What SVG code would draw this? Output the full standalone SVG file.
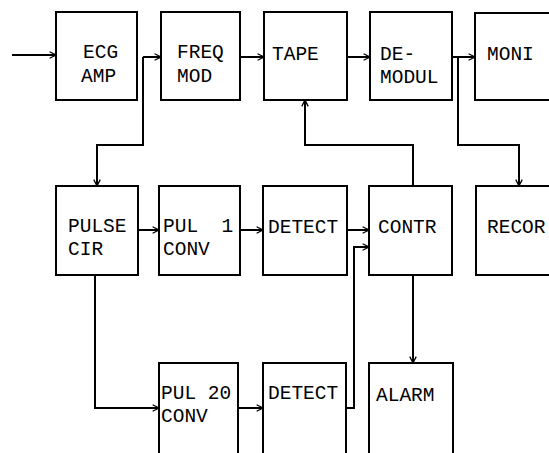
<svg xmlns="http://www.w3.org/2000/svg" width="549" height="453" viewBox="0 0 549 453">
<style>
.box{fill:#fff;stroke:#000;stroke-width:2}
.t{font-family:"Liberation Mono","DejaVu Sans Mono",monospace;font-size:19.5px;fill:#000;white-space:pre}
.c{fill:none;stroke:#000;stroke-width:2}
</style>
<defs>
<marker id="a" viewBox="0 0 10 10" refX="9" refY="5" markerWidth="8" markerHeight="8" markerUnits="userSpaceOnUse" orient="auto">
<path d="M1,1 L9,5 L1,9" fill="none" stroke="#000" stroke-width="1.6"/>
</marker>
</defs>
<rect width="549" height="453" fill="#fff"/>
<g id="ecg"><rect class="box" x="56" y="12" width="81" height="88"/><text class="t" x="83" y="58">ECG</text><text class="t" x="81" y="82">AMP</text></g>
<g id="freq"><rect class="box" x="161" y="12" width="79" height="88"/><text class="t" x="177" y="58">FREQ</text><text class="t" x="177" y="82">MOD</text></g>
<g id="tape"><rect class="box" x="264" y="12" width="83" height="88"/><text class="t" x="272" y="60">TAPE</text></g>
<g id="demod"><rect class="box" x="370" y="12" width="82" height="88"/><text class="t" x="380" y="60">DE-</text><text class="t" x="380" y="83">MODUL</text></g>
<g id="moni"><rect class="box" x="475" y="13" width="90" height="87"/><text class="t" x="487" y="60">MONI</text></g>
<g id="pulse"><rect class="box" x="56" y="186" width="82" height="89"/><text class="t" x="68" y="232">PULSE</text><text class="t" x="68" y="255">CIR</text></g>
<g id="pul1"><rect class="box" x="159" y="186" width="81" height="89"/><text class="t" x="163" y="232">PUL  1</text><text class="t" x="163" y="255">CONV</text></g>
<g id="detect1"><rect class="box" x="263" y="186" width="84" height="89"/><text class="t" x="268" y="233">DETECT</text></g>
<g id="contr"><rect class="box" x="369" y="186" width="83" height="89"/><text class="t" x="378" y="233">CONTR</text></g>
<g id="recor"><rect class="box" x="476" y="186" width="90" height="89"/><text class="t" x="487" y="233">RECOR</text></g>
<g id="pul20"><rect class="box" x="159" y="363" width="79" height="100"/><text class="t" x="161" y="399">PUL 20</text><text class="t" x="161" y="422">CONV</text></g>
<g id="detect2"><rect class="box" x="263" y="363" width="83" height="100"/><text class="t" x="268" y="399">DETECT</text></g>
<g id="alarm"><rect class="box" x="369" y="363" width="84" height="100"/><text class="t" x="376" y="401">ALARM</text></g>
<g id="connectors">
<path class="c" d="M12,55 H56" marker-end="url(#a)"/>
<path class="c" d="M143,57 H161" marker-end="url(#a)"/>
<path class="c" d="M143,57 V145 H97 V186" marker-end="url(#a)"/>
<path class="c" d="M240,57 H264" marker-end="url(#a)"/>
<path class="c" d="M347,57 H370" marker-end="url(#a)"/>
<path class="c" d="M452,57 H475" marker-end="url(#a)"/>
<path class="c" d="M458,57 V145 H519 V186" marker-end="url(#a)"/>
<path class="c" d="M413,186 V145 H305 V100" marker-end="url(#a)"/>
<path class="c" d="M138,230 H159" marker-end="url(#a)"/>
<path class="c" d="M240,230 H263" marker-end="url(#a)"/>
<path class="c" d="M347,230 H369" marker-end="url(#a)"/>
<path class="c" d="M95,275 V408 H159" marker-end="url(#a)"/>
<path class="c" d="M238,408 H263" marker-end="url(#a)"/>
<path class="c" d="M346,408 H354 V247 H369" marker-end="url(#a)"/>
<path class="c" d="M413,275 V363" marker-end="url(#a)"/>
</g>
</svg>
